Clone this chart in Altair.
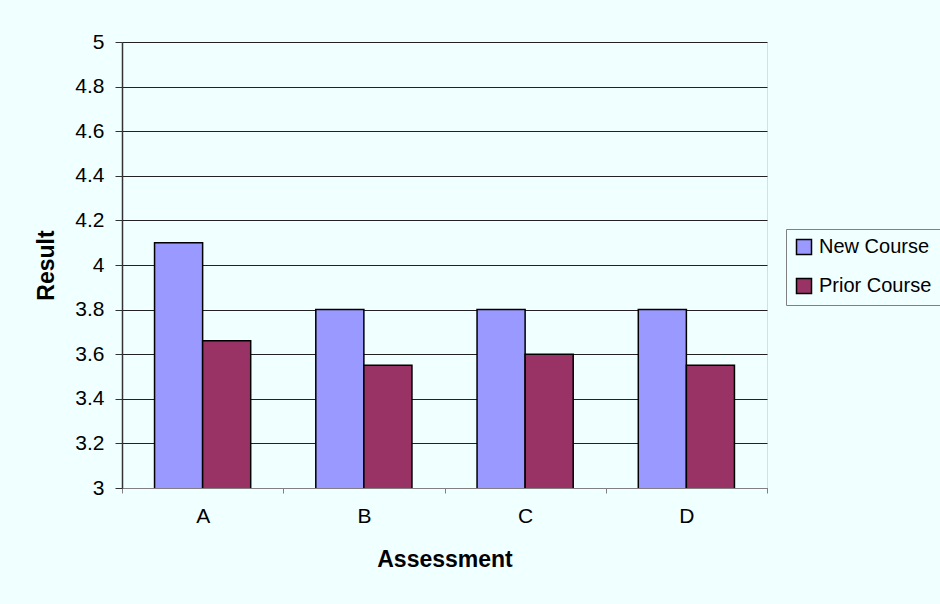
import altair as alt
import pandas as pd

categories = ["A", "B", "C", "D"]
series = ["New Course", "Prior Course"]
new_course = [4.1, 3.8, 3.8, 3.8]
prior_course = [3.66, 3.55, 3.6, 3.55]
colors = ["#9999FF", "#993366"]

rows = []
for i, c in enumerate(categories):
    rows.append({"Assessment": c, "Series": series[0], "Result": new_course[i]})
    rows.append({"Assessment": c, "Series": series[1], "Result": prior_course[i]})
df = pd.DataFrame(rows)

FONT = "Liberation Sans"
BG = "#F0FFFF"

chart = alt.Chart(df).mark_bar(stroke="black", strokeWidth=1.5, clip=True).encode(
    x=alt.X("Assessment:N", sort=categories,
            scale=alt.Scale(paddingInner=0, paddingOuter=0),
            axis=alt.Axis(title="Assessment", labelAngle=0, tickBand="extent",
                          domainColor="#808080", tickColor="#808080", tickSize=5,
                          labelPadding=12, titlePadding=22, labelFontSize=21,
                          titleFontSize=23, titleFontWeight="bold", labelColor="black",
                          titleColor="black", labelFont=FONT, titleFont=FONT)),
    xOffset=alt.XOffset("Series:N", sort=series,
                        scale=alt.Scale(paddingInner=0, paddingOuter=0.677)),
    y=alt.Y("Result:Q", scale=alt.Scale(domain=[3, 5], nice=False, zero=False),
            axis=alt.Axis(title="Result", values=[3 + 0.2 * k for k in range(11)],
                          format="~g", grid=True, gridColor="#222222", gridWidth=1,
                          domainColor="#333333", domainWidth=1.5, tickColor="#333333",
                          tickSize=7, labelPadding=11, titlePadding=16,
                          labelFontSize=21, titleFontSize=23, titleFontWeight="bold",
                          labelColor="black", titleColor="black",
                          labelFont=FONT, titleFont=FONT)),
    color=alt.Color("Series:N", sort=series,
                    scale=alt.Scale(domain=series, range=colors),
                    legend=alt.Legend(title=None, orient="none", legendX=664, legendY=187,
                                      symbolType="square", symbolSize=225,
                                      symbolStrokeColor="black", symbolStrokeWidth=1.5,
                                      labelFontSize=20, labelFont=FONT, labelColor="black",
                                      rowPadding=17, padding=8, strokeColor="#808080",
                                      fillColor=BG, labelOffset=5, labelLimit=300)),
).properties(
    width=645, height=446,
    background=BG,
    padding={"left": 122, "top": 42, "right": 173, "bottom": 116},
    autosize=alt.AutoSizeParams(type="none"),
).configure_view(
    stroke="#8E9AB0", strokeWidth=2
).configure(font=FONT)

chart.save("out.html", embed_options={"renderer": "svg", "actions": False})
